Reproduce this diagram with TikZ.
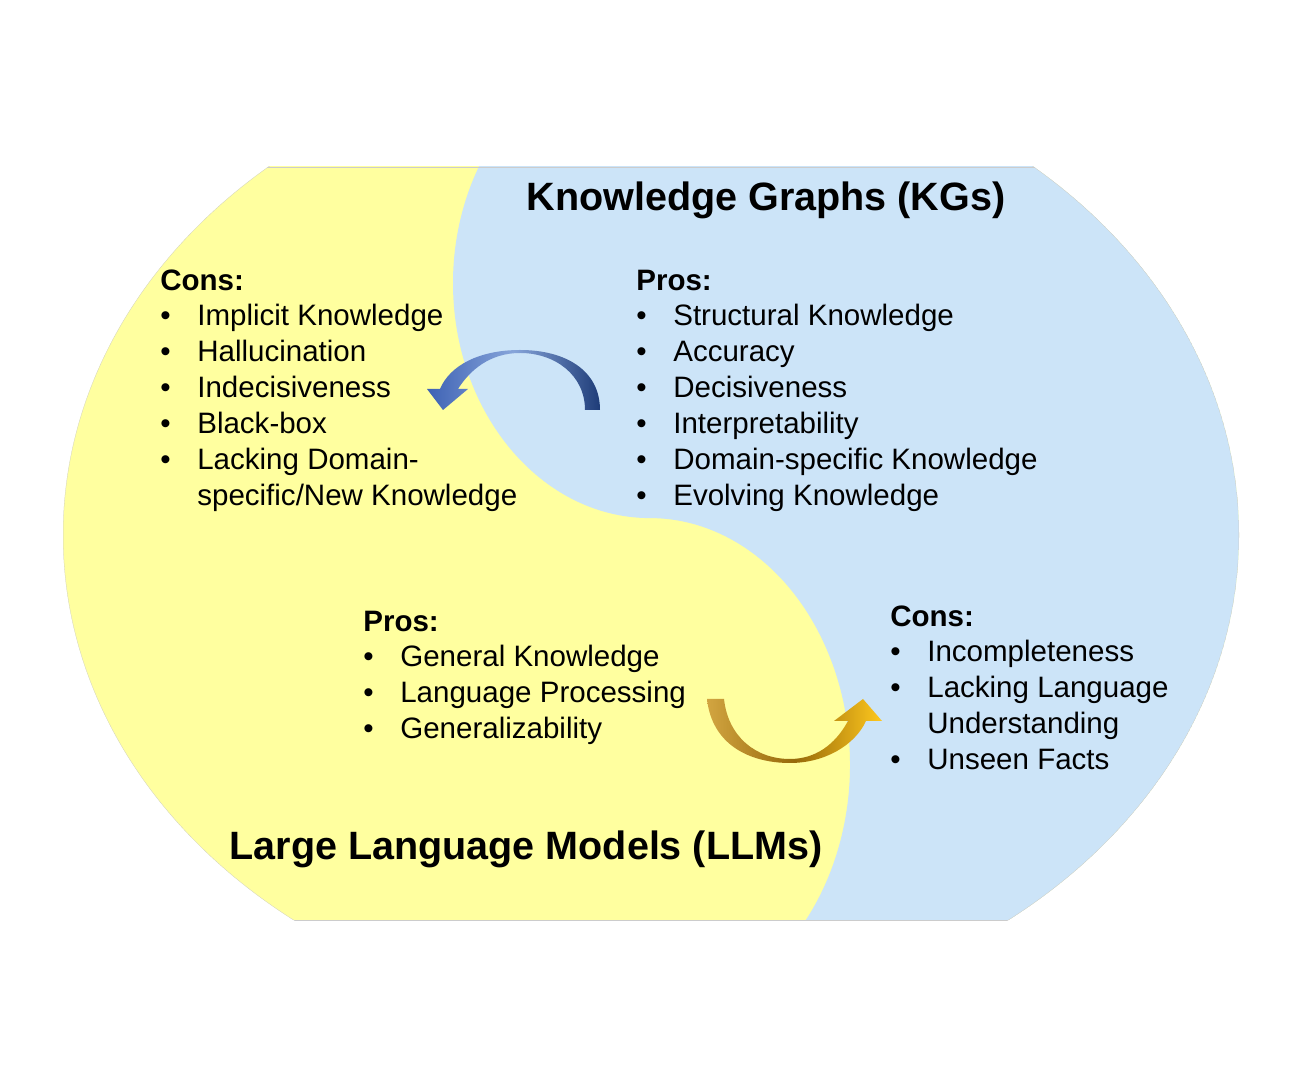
\documentclass[tikz,border=0pt]{standalone}
\usepackage{fontspec}
\setmainfont{Liberation Sans}
\usetikzlibrary{positioning,calc}
\definecolor{llmyellow}{HTML}{FFFF9F}
\definecolor{kgblue}{HTML}{CCE4F8}
\definecolor{navy}{RGB}{30,60,120}
\definecolor{midblue}{RGB}{62,98,180}
\definecolor{paleblue}{RGB}{135,165,218}
\definecolor{darkgold}{RGB}{150,105,10}
\definecolor{palegold}{RGB}{210,165,65}
\definecolor{brightgold}{RGB}{255,200,30}

\begin{document}
\begin{tikzpicture}[x=0.02cm,y=0.02cm]

    \tikzstyle{body}=[inner sep=0, font=\fontsize{16.8}{20.5}\selectfont, anchor=north west]
    \tikzstyle{hd}=[body, font=\fontsize{16.8}{20.5}\selectfont\bfseries]
    \tikzstyle{ttl}=[inner sep=0, anchor=base, font=\fontsize{22.5}{27}\selectfont\bfseries]
    \tikzstyle{rim}=[draw=black!20, line width=0.3pt]
    \tikzstyle{bluearrow}=[left color=midblue, right color=navy, middle color=paleblue]
    \tikzstyle{goldarrow}=[left color=palegold, right color=brightgold, middle color=darkgold]

    \useasboundingbox (0,0) rectangle (1306,1086);

    % the two halves
    \begin{scope}
      \clip (0,166) rectangle (1306,919);
      \clip (651,551) ellipse [x radius=588, y radius=485];
      \fill[llmyellow] (0,0) rectangle (1306,1086);
      \fill[kgblue] (750,107) arc[start angle=-60, end angle=90, x radius=200, y radius=247]
        arc[start angle=270, end angle=120, x radius=197, y radius=235]
        -- (1400,1100) -- (1400,0) -- cycle;
      \draw[rim] (651,551) ellipse [x radius=588, y radius=485];
    \end{scope}
    \begin{scope}
      \clip (651,551) ellipse [x radius=588, y radius=485];
      \draw[rim] (0,166) -- (1306,166);
      \draw[rim] (0,919) -- (1306,919);
    \end{scope}

    % titles
    \node (kgTitle) at (766,875)[ttl]{Knowledge Graphs (KGs)};
    \node (llmTitle) at (526,226)[ttl]{Large Language Models (LLMs)};

    % LLM cons
    \node (llmConsHd) at (160,821)[hd]{Cons:\strut};
    \node (llmCons)[below=-0.04cm of llmConsHd.south west, body]{\begin{tabular}{@{}p{0.74cm}@{}l@{}}
      \textbullet & Implicit Knowledge\\
      \textbullet & Hallucination\\
      \textbullet & Indecisiveness\\
      \textbullet & Black-box\\
      \textbullet & Lacking Domain-\\
                  & specific/New Knowledge\\
    \end{tabular}};

    % KG pros
    \node (kgProsHd) at (636,821)[hd]{Pros:\strut};
    \node (kgPros)[below=-0.04cm of kgProsHd.south west, body]{\begin{tabular}{@{}p{0.74cm}@{}l@{}}
      \textbullet & Structural Knowledge\\
      \textbullet & Accuracy\\
      \textbullet & Decisiveness\\
      \textbullet & Interpretability\\
      \textbullet & Domain-specific Knowledge\\
      \textbullet & Evolving Knowledge\\
    \end{tabular}};

    % LLM pros
    \node (llmProsHd) at (363,480)[hd]{Pros:\strut};
    \node (llmPros)[below=-0.04cm of llmProsHd.south west, body]{\begin{tabular}{@{}p{0.74cm}@{}l@{}}
      \textbullet & General Knowledge\\
      \textbullet & Language Processing\\
      \textbullet & Generalizability\\
    \end{tabular}};

    % KG cons
    \node (kgConsHd) at (890,485)[hd]{Cons:\strut};
    \node (kgCons)[below=-0.04cm of kgConsHd.south west, body]{\begin{tabular}{@{}p{0.74cm}@{}l@{}}
      \textbullet & Incompleteness\\
      \textbullet & Lacking Language\\
                  & Understanding\\
      \textbullet & Unseen Facts\\
    \end{tabular}};

    % curved arrows
    \shade[bluearrow] (600,676) .. controls (600,716) and (565,736) .. (520,736)
      .. controls (480,736) and (450,721) .. (440,697)
      -- (427,697) -- (443,676) -- (468,697) -- (458,697)
      .. controls (470,716) and (490,733) .. (520,733)
      .. controls (555,733) and (585,711) .. (585,676) -- cycle;
    \shade[goldarrow] (707,387) .. controls (712,341) and (750,323) .. (790,323)
      .. controls (825,323) and (855,341) .. (866,365)
      -- (882,365) -- (863,387) -- (834,365) -- (848,365)
      .. controls (835,341) and (815,327) .. (790,327)
      .. controls (755,327) and (728,350) .. (724,387) -- cycle;

\end{tikzpicture}
\end{document}
